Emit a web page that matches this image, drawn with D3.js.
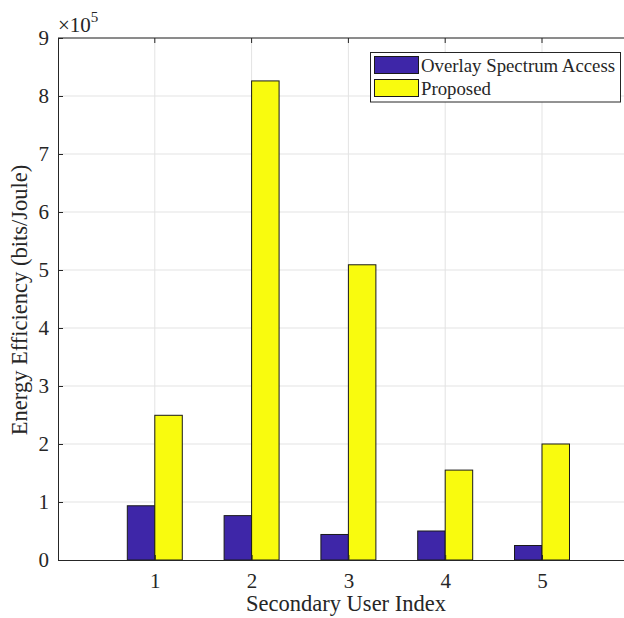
<!DOCTYPE html>
<html><head><meta charset="utf-8">
<script src="https://cdn.jsdelivr.net/npm/d3@7"></script>
<style>body{margin:0;background:#fff}svg{display:block}
svg text{font-family:'Liberation Serif','Times New Roman','DejaVu Serif',serif !important;fill:#262626}</style>
</head><body><svg id="c" width="624" height="618"></svg>
<script>
const categories = [1, 2, 3, 4, 5];
const seriesNames = ["Overlay Spectrum Access", "Proposed"];
const overlay = [0.935, 0.765, 0.44, 0.5, 0.25];
const proposed = [2.495, 8.26, 5.09, 1.55, 2.0];
const yTicks = [0,1,2,3,4,5,6,7,8,9];
const colors = ["#3e26a8", "#f9fb0e"];

const svg = d3.select("#c");
const L = 58, T = 38, B = 560;
const x = d3.scaleLinear().domain([0, 6]).range([L, L + 6 * 96.8]);
const y = d3.scaleLinear().domain([0, 9]).range([B, T]);
const R = x(6);

// grid
svg.append("g").selectAll("line").data(yTicks.slice(1)).join("line")
  .attr("x1", L).attr("x2", R).attr("y1", d => y(d)).attr("y2", d => y(d))
  .attr("stroke", "#e3e3e3").attr("stroke-width", 1);
svg.append("g").selectAll("line").data(categories).join("line")
  .attr("x1", d => x(d)).attr("x2", d => x(d)).attr("y1", T).attr("y2", B)
  .attr("stroke", "#e3e3e3").attr("stroke-width", 1);

// bars
const bw = 0.284;
const series = [overlay, proposed];
series.forEach((vals, s) => {
  svg.append("g").selectAll("rect").data(categories).join("rect")
    .attr("x", (d) => x(d + (s === 0 ? -bw : 0)))
    .attr("width", x(bw) - x(0))
    .attr("y", (d, i) => y(vals[i]))
    .attr("height", (d, i) => y(0) - y(vals[i]))
    .attr("fill", colors[s]).attr("stroke", "#1a1a1a").attr("stroke-width", 1);
});

// axes
const ax = svg.append("g").attr("transform", `translate(0,${B})`)
  .call(d3.axisBottom(x).tickValues(categories).tickSize(-5).tickPadding(13).tickFormat(d3.format("d")));
const ay = svg.append("g").attr("transform", `translate(${L},0)`)
  .call(d3.axisLeft(y).tickValues(yTicks).tickSize(-5).tickPadding(9).tickFormat(d3.format("d")));
[ax, ay].forEach(g => {
  g.attr("font-family", null);
  g.select(".domain").attr("stroke", "#262626").attr("stroke-width", 1);
  g.selectAll(".tick line").attr("stroke", "#262626");
  g.selectAll("text").attr("font-size", 21).attr("fill", "#262626");
});
// top box + ticks
svg.append("line").attr("x1", L).attr("x2", R).attr("y1", T).attr("y2", T).attr("stroke", "#262626");
svg.append("g").selectAll("line").data(categories).join("line")
  .attr("x1", d => x(d)).attr("x2", d => x(d)).attr("y1", T).attr("y2", T + 5).attr("stroke", "#262626");

// exponent
const ex = svg.append("text").attr("x", L).attr("y", 32).attr("font-size", 21);
ex.append("tspan").text("×10");
ex.append("tspan").attr("dy", -10).attr("font-size", 15).text("5");

// labels
svg.append("text").attr("x", 346).attr("y", 611).attr("text-anchor", "middle").attr("font-size", 22.5).text("Secondary User Index");
svg.append("text").attr("transform", "translate(27,300) rotate(-90)").attr("text-anchor", "middle").attr("font-size", 22.5).text("Energy Efficiency (bits/Joule)");

// legend
const lg = svg.append("g");
lg.append("rect").attr("x", 370.5).attr("y", 52.5).attr("width", 250).attr("height", 49.5).attr("fill", "#fff").attr("stroke", "#262626");
seriesNames.forEach((n, i) => {
  lg.append("rect").attr("x", 374.5).attr("y", 56.5 + i * 23).attr("width", 44).attr("height", 17)
    .attr("fill", colors[i]).attr("stroke", "#1a1a1a");
  lg.append("text").attr("x", 421).attr("y", 71.5 + i * 23).attr("font-size", 18.8).text(n);
});
</script></body></html>
